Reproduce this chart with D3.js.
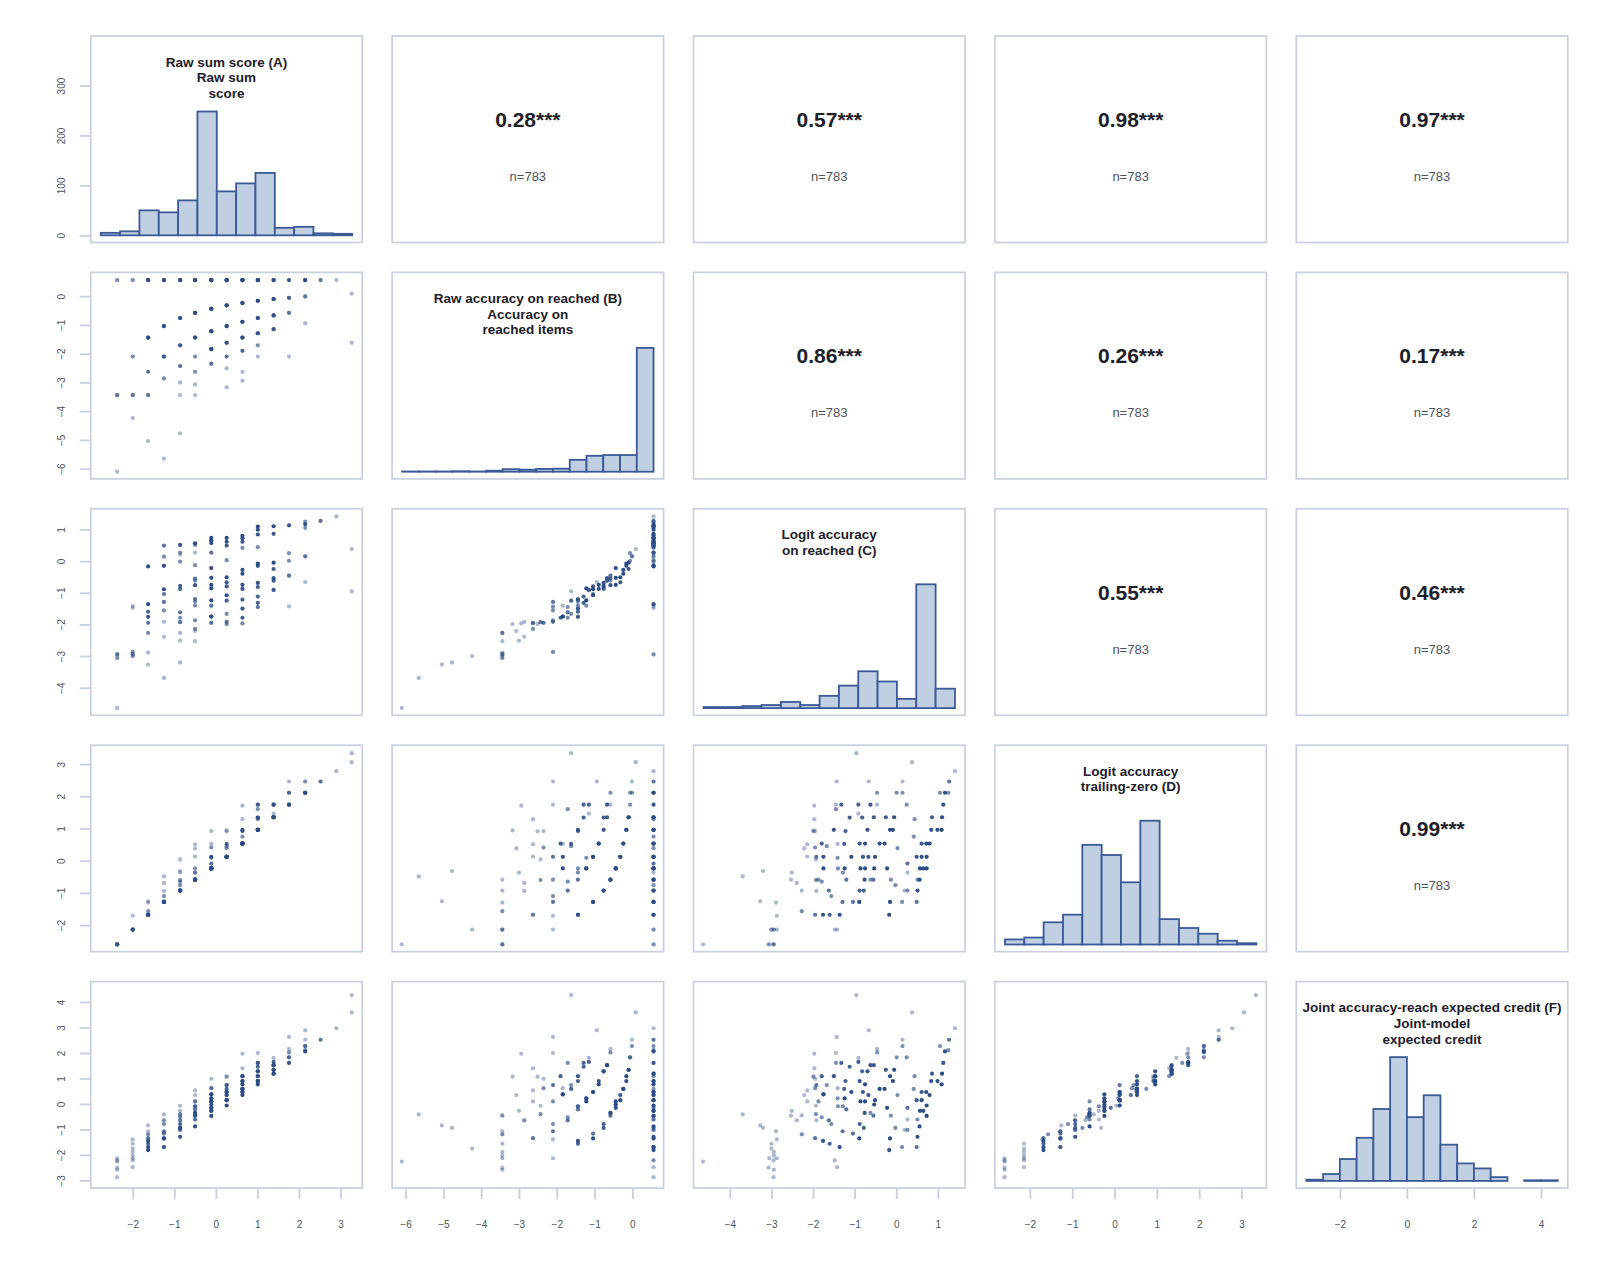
<!DOCTYPE html>
<html>
<head>
<meta charset="utf-8">
<script src="https://cdn.jsdelivr.net/npm/d3@7"></script>
<style>
  body { margin: 0; background: #fff; }
  text { font-family: "Liberation Sans", Arial, Helvetica, sans-serif; }
</style>
</head>
<body>
<svg id="chart" width="1600" height="1280"></svg>
<script>
// variables, in matrix order
const varNames = ['A', 'B', 'C', 'D', 'F'];
const diagTitles = [
  ['Raw sum score (A)', 'Raw sum', 'score'],
  ['Raw accuracy on reached (B)', 'Accuracy on', 'reached items'],
  ['Logit accuracy', 'on reached (C)'],
  ['Logit accuracy', 'trailing-zero (D)'],
  ['Joint accuracy-reach expected credit (F)', 'Joint-model', 'expected credit']
];

// histogram break ranges (first and last break) and bin counts
const histRange = [[-2.77, 3.28], [-6.09, 0.56], [-4.63, 1.41], [-2.59, 3.35], [-3.0, 4.5]];
const histA = [5, 8, 50, 46, 70, 248, 88, 104, 125, 15, 17, 4, 3];
const histB = [1, 1, 1, 2, 1, 4, 10, 8, 11, 12, 47, 63, 66, 66, 490];
const histC = [3, 3, 6, 9, 18, 9, 36, 66, 108, 78, 27, 363, 57];
const histD = [8, 11, 35, 47, 157, 141, 98, 195, 40, 26, 17, 6, 2];
const histF = [2, 11, 35, 69, 115, 198, 102, 137, 58, 28, 20, 6, 0, 1, 1];
const histCounts = [histA, histB, histC, histD, histF];

// tick labels
const varTicks = [
  [-2, -1, 0, 1, 2, 3],
  [-6, -5, -4, -3, -2, -1, 0],
  [-4, -3, -2, -1, 0, 1],
  [-2, -1, 0, 1, 2, 3],
  [-3, -2, -1, 0, 1, 2, 3, 4]
];
const bottomTicksF = [-2, 0, 2, 4];
const countTicks = [0, 100, 200, 300];

// correlations shown in the upper triangle: [row, col, r]
const correlations = [
  [0, 1, '0.28'], [0, 2, '0.57'], [0, 3, '0.98'], [0, 4, '0.97'],
  [1, 2, '0.86'], [1, 3, '0.26'], [1, 4, '0.17'],
  [2, 3, '0.55'], [2, 4, '0.46'],
  [3, 4, '0.99']
];
const nObs = 783;

// observed response patterns: [A, B, C, D, F, count]
const obs = [
  // A = -2.375
  [-2.375, 0.56, -2.95, -2.60, -2.87, 1],
  [-2.375, -3.44, -2.94, -2.60, -2.58, 1],
  [-2.375, -3.44, -3.07, -2.60, -2.50, 1],
  [-2.375, -3.44, -3.05, -2.60, -2.13, 1],
  [-2.375, -6.10, -4.64, -2.60, -2.26, 1],
  [-2.375, 0.56, -2.95, -2.60, -2.21, 1],
  // A = -2.0
  [-2.0, 0.56, -1.42, -2.14, -2.48, 1],
  [-2.0, 0.56, -1.48, -2.14, -2.21, 1],
  [-2.0, -2.10, -2.87, -2.14, -2.13, 1],
  [-2.0, -3.44, -2.94, -2.14, -2.03, 1],
  [-2.0, -3.44, -2.94, -2.14, -1.88, 1],
  [-2.0, -4.24, -3.00, -2.14, -1.75, 1],
  [-2.0, -3.44, -3.00, -2.14, -1.56, 1],
  [-2.0, -2.10, -2.87, -1.71, -1.39, 1],
  // A = -1.63
  [-1.63, 0.56, -0.17, -1.68, -1.81, 12],
  [-1.63, 0.56, -1.36, -1.68, -1.69, 8],
  [-1.63, -1.44, -1.60, -1.68, -1.56, 4],
  [-1.63, -1.44, -1.76, -1.68, -1.45, 6],
  [-1.63, -2.63, -1.95, -1.68, -1.34, 3],
  [-1.63, -3.44, -2.27, -1.57, -1.19, 2],
  [-1.63, -3.44, -2.89, -1.30, -1.07, 1],
  [-1.63, -5.04, -3.27, -1.26, -0.84, 1],
  // A = -1.25
  [-1.25, 0.56, 0.49, -1.28, -1.69, 3],
  [-1.25, 0.56, 0.14, -1.28, -1.69, 2],
  [-1.25, 0.56, -0.15, -1.28, -1.35, 15],
  [-1.25, -1.04, -0.89, -1.28, -1.35, 10],
  [-1.25, -1.04, -1.04, -1.28, -1.16, 3],
  [-1.25, -2.10, -1.29, -1.28, -1.07, 3],
  [-1.25, -2.10, -1.56, -1.10, -0.79, 2],
  [-1.25, -2.86, -1.92, -0.94, -0.64, 1],
  [-1.25, -2.86, -2.39, -0.69, -0.64, 1],
  [-1.25, -5.65, -3.69, -0.49, -0.41, 1],
  // A = -0.86
  [-0.86, 0.56, 0.51, -0.93, -1.29, 6],
  [-0.86, 0.56, 0.27, -0.93, -1.02, 2],
  [-0.86, 0.56, 0.20, -0.93, -1.02, 1],
  [-0.86, 0.56, -0.02, -0.76, -0.94, 2],
  [-0.86, -0.76, -0.78, -0.93, -0.94, 4],
  [-0.86, -0.76, -0.88, -0.93, -0.79, 4],
  [-0.86, -1.71, -1.62, -0.93, -0.64, 3],
  [-0.86, -1.71, -1.79, -0.65, -0.52, 2],
  [-0.86, -2.43, -1.93, -0.60, -0.40, 2],
  [-0.86, -3.00, -2.51, -0.37, -0.27, 1],
  [-0.86, -3.44, -2.27, -0.93, -0.45, 1],
  [-0.86, -4.77, -3.20, -0.32, -0.94, 1],
  [-0.86, -2.43, -1.93, 0.04, -0.07, 1],
  // A = -0.50
  [-0.50, 0.56, 0.56, -0.59, -0.88, 12],
  [-0.50, 0.56, 0.51, -0.59, -0.61, 2],
  [-0.50, 0.56, 0.27, -0.37, -0.61, 1],
  [-0.50, 0.56, -0.13, -0.59, -0.46, 2],
  [-0.50, -0.58, -0.55, -0.59, -0.46, 3],
  [-0.50, -0.58, -0.62, -0.59, -0.35, 2],
  [-0.50, -0.58, -0.76, -0.59, -0.35, 6],
  [-0.50, -1.44, -1.20, -0.59, -0.21, 3],
  [-0.50, -1.44, -1.28, -0.37, -0.09, 2],
  [-0.50, -1.44, -1.40, -0.24, -0.09, 2],
  [-0.50, -2.10, -1.87, -0.59, 0.10, 2],
  [-0.50, -2.63, -2.14, 0.13, 0.10, 1],
  [-0.50, -3.07, -2.21, 0.38, 0.35, 1],
  [-0.50, -3.44, -2.53, -0.59, -0.46, 1],
  [-0.50, -2.63, -2.14, 0.51, 0.53, 1],
  // A = -0.11
  [-0.11, 0.56, 0.73, -0.24, -0.47, 60],
  [-0.11, 0.56, 0.65, -0.24, -0.27, 25],
  [-0.11, 0.56, 0.57, -0.24, -0.27, 20],
  [-0.11, 0.56, 0.27, -0.09, -0.15, 3],
  [-0.11, -0.44, -0.22, -0.24, -0.15, 10],
  [-0.11, -0.44, -0.53, -0.24, -0.02, 40],
  [-0.11, -0.44, -0.75, -0.24, 0.10, 20],
  [-0.11, -1.22, -0.86, -0.24, 0.10, 15],
  [-0.11, -1.22, -1.24, -0.24, 0.22, 20],
  [-0.11, -1.22, -1.41, 0.09, 0.22, 2],
  [-0.11, -1.84, -1.75, -0.24, 0.38, 8],
  [-0.11, -1.84, -1.75, 0.12, 0.38, 6],
  [-0.11, -2.35, -1.95, 0.41, 0.62, 2],
  [-0.11, -1.84, -1.41, 0.52, 0.62, 1],
  [-0.11, -2.35, -1.95, 0.92, 0.99, 1],
  // A = 0.26
  [0.26, 0.56, 0.73, 0.12, -0.06, 25],
  [0.26, 0.56, 0.61, 0.12, 0.15, 8],
  [0.26, 0.56, 0.49, 0.12, 0.15, 5],
  [0.26, 0.56, 0.03, 0.39, 0.35, 2],
  [0.26, -0.32, -0.51, 0.12, 0.15, 12],
  [0.26, -0.32, -0.67, 0.12, 0.35, 5],
  [0.26, -1.04, -0.80, 0.12, 0.47, 5],
  [0.26, -1.04, -1.08, 0.12, 0.47, 8],
  [0.26, -1.62, -1.25, 0.52, 0.59, 4],
  [0.26, -1.62, -1.67, 0.45, 0.74, 2],
  [0.26, -2.10, -1.92, 0.12, 0.74, 3],
  [0.26, -2.51, -1.99, 0.91, 1.07, 1],
  [0.26, -3.17, -1.99, 0.94, 1.07, 1],
  // A = 0.64
  [0.64, 0.56, 0.80, 0.53, 0.35, 30],
  [0.64, 0.56, 0.72, 0.53, 0.47, 8],
  [0.64, 0.56, 0.61, 0.53, 0.47, 5],
  [0.64, 0.56, 0.42, 0.75, 0.59, 2],
  [0.64, -0.24, -0.28, 0.53, 0.59, 8],
  [0.64, -0.24, -0.40, 0.53, 0.59, 15],
  [0.64, -0.89, -0.75, 0.53, 0.77, 8],
  [0.64, -0.89, -0.88, 0.53, 0.90, 6],
  [0.64, -1.44, -1.22, 0.92, 0.90, 4],
  [0.64, -1.44, -1.50, 0.96, 1.09, 6],
  [0.64, -1.90, -1.79, 0.53, 1.09, 4],
  [0.64, -2.63, -1.97, 1.29, 1.40, 1],
  [0.64, -2.94, -1.97, 1.71, 1.97, 1],
  // A = 1.01
  [1.01, 0.56, 1.09, 0.96, 0.77, 15],
  [1.01, 0.56, 0.99, 0.96, 0.90, 8],
  [1.01, 0.56, 0.84, 0.96, 0.90, 6],
  [1.01, 0.56, 0.44, 1.29, 1.09, 2],
  [1.01, -0.16, -0.08, 0.96, 0.90, 10],
  [1.01, -0.16, -0.15, 0.96, 1.09, 8],
  [1.01, -0.76, -0.69, 0.96, 1.28, 6],
  [1.01, -0.76, -0.82, 1.34, 1.28, 4],
  [1.01, -1.29, -1.12, 1.34, 1.46, 4],
  [1.01, -1.29, -1.32, 1.74, 1.61, 4],
  [1.01, -1.71, -1.45, 1.60, 1.61, 2],
  [1.01, -2.10, -1.45, 1.74, 2.00, 1],
  // A = 1.39
  [1.39, 0.56, 1.10, 1.35, 1.19, 15],
  [1.39, 0.56, 0.86, 1.35, 1.19, 5],
  [1.39, -0.10, -0.05, 1.35, 1.34, 10],
  [1.39, -0.10, -0.25, 1.35, 1.34, 5],
  [1.39, -0.67, -0.54, 1.35, 1.52, 5],
  [1.39, -0.67, -0.62, 1.74, 1.52, 5],
  [1.39, -1.15, -0.91, 1.74, 1.65, 4],
  [1.39, -1.15, -0.91, 1.46, 1.81, 1],
  // A = 1.76
  [1.76, 0.56, 1.13, 1.74, 1.61, 6],
  [1.76, -0.06, 0.25, 1.74, 1.83, 2],
  [1.76, -0.06, 0.01, 2.11, 1.83, 2],
  [1.76, -0.58, -0.46, 2.11, 2.02, 2],
  [1.76, -0.58, -0.46, 1.74, 2.16, 1],
  [1.76, -2.10, -1.43, 2.46, 2.63, 1],
  // A = 2.15
  [2.15, 0.56, 1.17, 2.11, 2.06, 7],
  [2.15, 0.56, 1.25, 2.11, 2.11, 2],
  [2.15, 0.56, 1.05, 2.11, 2.27, 2],
  [2.15, -0.01, 0.15, 2.11, 2.27, 2],
  [2.15, -0.01, 0.15, 2.46, 2.52, 1],
  [2.15, -0.94, -0.66, 2.46, 2.89, 1],
  // A = 2.52 .. 3.27
  [2.52, 0.56, 1.27, 2.46, 2.52, 3],
  [2.90, 0.56, 1.41, 2.78, 2.97, 1],
  [3.27, 0.09, 0.38, 3.06, 3.59, 1],
  [3.27, -1.62, -0.96, 3.34, 4.27, 1]
];

// layout
const left0 = 90.7, top0 = 36, pw = 271.5, ph = 206.5, stepX = 301.4, stepY = 236.4;
const frameColor = '#c6d0e0', tickColor = '#c6d0e0', labelColor = '#4c5361';
const pointColor = '#2b4c85';

const svg = d3.select('#chart');

const domains = histRange.map(([lo, hi]) => {
  const pad = (hi - lo) * 0.04;
  return [lo - pad, hi + pad];
});
const xScales = domains.map(d => d3.scaleLinear().domain(d).range([0, pw]));
const yScales = domains.map(d => d3.scaleLinear().domain(d).range([ph, 0]));

function styleAxis(g) {
  g.select('.domain').remove();
  g.selectAll('.tick line').attr('stroke', tickColor).attr('stroke-width', 1.8);
  g.selectAll('.tick text')
    .attr('fill', labelColor)
    .style('font-size', '10px');
}

function drawHist(g, j) {
  const counts = histCounts[j];
  const [lo, hi] = histRange[j];
  const nb = counts.length;
  const edges = d3.range(nb + 1).map(k => lo + (hi - lo) * k / nb);
  const maxC = d3.max(counts);
  const hy = d3.scaleLinear().domain([-0.058 * maxC, 1.61 * maxC]).range([ph, 0]);
  const x = xScales[j];

  g.selectAll('rect.bar')
    .data(counts)
    .join('rect')
      .attr('class', 'bar')
      .attr('x', (d, k) => x(edges[k]))
      .attr('width', (d, k) => x(edges[k + 1]) - x(edges[k]))
      .attr('y', d => hy(d))
      .attr('height', d => hy(0) - hy(d))
      .attr('fill', '#c0cfe1')
      .attr('stroke', '#3a5a97')
      .attr('stroke-width', 1.8);

  const title = g.append('text')
    .attr('text-anchor', 'middle')
    .attr('fill', '#1c2029')
    .style('font-size', '13.5px')
    .style('font-weight', 'bold');
  title.selectAll('tspan')
    .data(diagTitles[j])
    .join('tspan')
      .attr('x', pw / 2)
      .attr('y', (d, k) => 30.5 + k * 15.8)
      .text(d => d);

  return hy;
}

function drawScatter(g, i, j) {
  const x = xScales[j], y = yScales[i];
  g.selectAll('circle')
    .data(obs)
    .join('circle')
      .attr('cx', d => x(d[j]))
      .attr('cy', d => y(d[i]))
      .attr('r', 2.1)
      .attr('fill', pointColor)
      .attr('fill-opacity', d => 1 - Math.pow(0.6, d[5]));
}

function drawCorr(g, r) {
  g.append('text')
    .attr('x', pw / 2)
    .attr('y', ph * 0.404)
    .attr('dy', '0.35em')
    .attr('text-anchor', 'middle')
    .attr('fill', '#1c2029')
    .style('font-size', '21px')
    .style('font-weight', 'bold')
    .text(r + '***');
  g.append('text')
    .attr('x', pw / 2)
    .attr('y', ph * 0.68)
    .attr('dy', '0.35em')
    .attr('text-anchor', 'middle')
    .attr('fill', '#4c5361')
    .style('font-size', '13px')
    .text('n=' + nObs);
}

const corrMap = new Map(correlations.map(c => [c[0] + '-' + c[1], c[2]]));

for (let i = 0; i < varNames.length; i++) {
  for (let j = 0; j < varNames.length; j++) {
    const g = svg.append('g')
      .attr('transform', `translate(${left0 + j * stepX},${top0 + i * stepY})`);

    let histY = null;
    if (i === j) histY = drawHist(g, j);
    else if (i > j) drawScatter(g, i, j);
    else drawCorr(g, corrMap.get(i + '-' + j));

    g.append('rect')
      .attr('width', pw)
      .attr('height', ph)
      .attr('fill', 'none')
      .attr('stroke', frameColor)
      .attr('stroke-width', 1.7);

    // left axis on first column
    if (j === 0) {
      const ax = i === 0
        ? d3.axisLeft(histY).tickValues(countTicks)
        : d3.axisLeft(yScales[i]).tickValues(varTicks[i]);
      const ag = g.append('g').call(ax.tickSize(11).tickFormat(d3.format('d')));
      styleAxis(ag);
      ag.selectAll('.tick text')
        .attr('x', 0)
        .attr('dy', '0.35em')
        .attr('text-anchor', 'middle')
        .attr('transform', 'translate(-29,0) rotate(-90)');
    }
    // bottom axis on last row
    if (i === varNames.length - 1) {
      const ticks = j === 4 ? bottomTicksF : varTicks[j];
      const ag = g.append('g')
        .attr('transform', `translate(0,${ph})`)
        .call(d3.axisBottom(xScales[j]).tickValues(ticks).tickSize(11).tickPadding(22).tickFormat(d3.format('d')));
      styleAxis(ag);
    }
  }
}
</script>
</body>
</html>
